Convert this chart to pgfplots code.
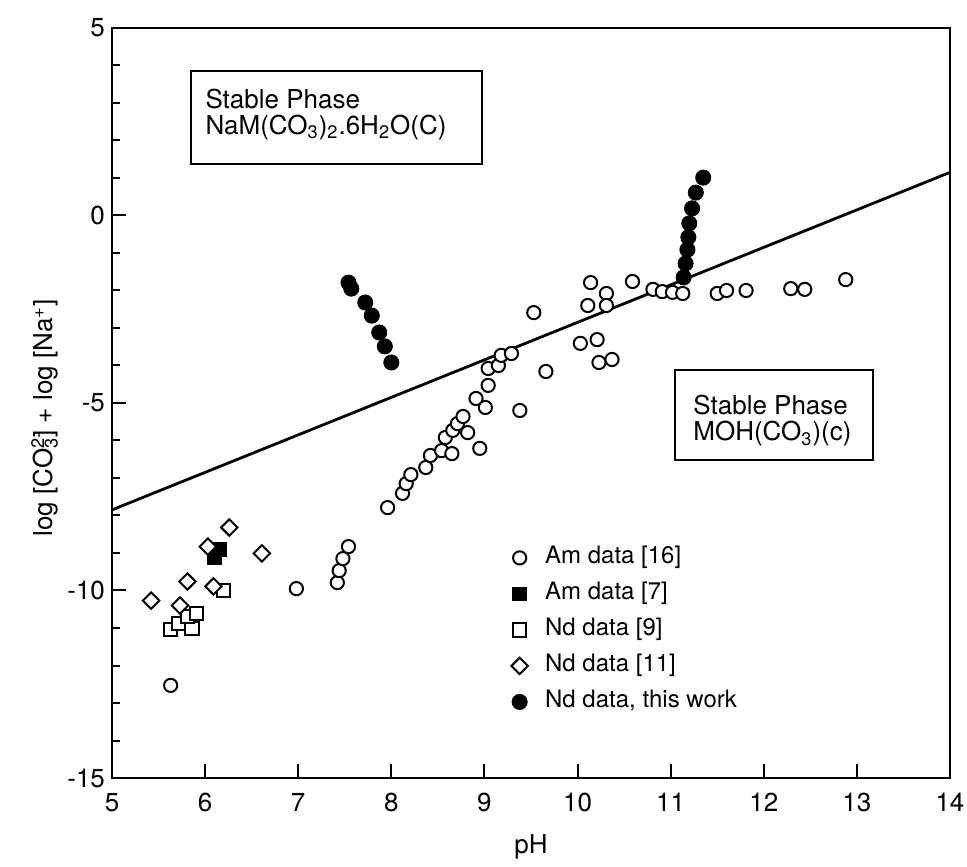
\documentclass[border=0pt]{standalone}
\usepackage{fontspec}
\setmainfont{TeX Gyre Heros}
\usepackage{pgfplots}
\pgfplotsset{compat=1.18}

\begin{document}
\begin{tikzpicture}
\begin{axis}[
  at={(0,0)}, anchor=south west,
  scale only axis, width=419pt, height=375pt,
  xmin=5, xmax=14, ymin=-15, ymax=5,
  xtick={5,6,...,14}, ytick={-15,-10,-5,0,5},
  minor y tick num=4,
  xtick pos=bottom, ytick pos=left,
  tick align=inside,
  major tick length=7pt, minor tick length=4pt,
  every tick/.style={black, line width=1pt},
  axis line style={line width=1.2pt},
  /pgf/number format/assume math mode=true,
  ticklabel style={font=\fontsize{13}{15}\selectfont},
  xticklabel style={yshift=-4pt},
  label style={font=\fontsize{13}{15}\selectfont},
  xlabel={pH},
  ylabel={log [CO\rlap{\textsuperscript{2-}}\textsubscript{3}] + log [Na\textsuperscript{+}]},
  xlabel style={at={(axis description cs:0.5,-0.092)}, anchor=center},
  ylabel style={at={(axis description cs:-0.08,0.48)}, anchor=center},
  legend image code/.code={\draw[#1] plot coordinates {(0.3cm,0cm)};
    \path (0cm,0cm) (0.6cm,0cm);},
  legend style={draw=none, fill=none, at={(axis description cs:0.458,0.318)},
    anchor=north west, font=\fontsize{12}{14}\selectfont, row sep=4pt,
    column sep=3pt,
    nodes={inner sep=1pt, text height=9pt, text depth=3pt}},
  legend cell align=left,
]

% boundary between the two solid phases (slope one in pH)
\addplot[black, line width=1.4pt, forget plot] coordinates {(5,-7.85) (14,1.15)};

% Am data [16]
\addplot[only marks, mark=*, mark size=3.3pt, mark options={draw=black, fill=white, line width=1pt}]
coordinates {
(5.63,-12.53) (6.98,-9.95) (7.42,-9.79) (7.44,-9.47) (7.48,-9.15) (7.54,-8.83)
(7.96,-7.79) (8.12,-7.41) (8.16,-7.15) (8.21,-6.91) (8.37,-6.72) (8.42,-6.40)
(8.54,-6.27) (8.65,-6.35) (8.58,-5.92) (8.66,-5.73) (8.71,-5.55) (8.77,-5.36)
(8.82,-5.79) (8.95,-6.21) (8.91,-4.88) (9.01,-5.12) (9.04,-4.53) (9.04,-4.08)
(9.15,-4.00) (9.18,-3.73) (9.29,-3.68) (9.38,-5.20) (9.53,-2.59) (9.66,-4.16)
(10.14,-1.79) (10.11,-2.40) (10.31,-2.08) (10.31,-2.40) (10.59,-1.76)
(10.03,-3.41) (10.21,-3.31) (10.23,-3.92) (10.37,-3.84)
(10.81,-1.97) (10.91,-2.03) (11.02,-2.05) (11.13,-2.08) (11.50,-2.08)
(11.60,-2.00) (11.81,-2.00) (12.29,-1.95) (12.44,-1.97) (12.88,-1.71)
};
\addlegendentry{Am data [16]}

% Am data [7]
\addplot[only marks, mark=square*, mark size=3.2pt, mark options={draw=black, fill=black, line width=0.8pt}]
coordinates {(6.10,-9.12) (6.16,-8.91)};
\addlegendentry{Am data [7]}

% Nd data [9]
\addplot[only marks, mark=square*, mark size=3.3pt, mark options={draw=black, fill=white, line width=1pt}]
coordinates {(5.63,-11.04) (5.72,-10.88) (5.86,-11.01) (5.81,-10.69) (5.91,-10.61) (6.20,-10.00)};
\addlegendentry{Nd data [9]}

% Nd data [11]
\addplot[only marks, mark=square*, mark size=2.9pt, mark options={draw=black, fill=white, line width=1pt, rotate=45}]
coordinates {(6.03,-8.83) (6.61,-9.01) (5.81,-9.76) (5.42,-10.27) (5.73,-10.40) (6.09,-9.89) (6.26,-8.32)};
\addlegendentry{Nd data [11]}

% Nd data, this work
\addplot[only marks, mark=*, mark size=3.8pt, mark options={draw=black, fill=black}]
coordinates {
(7.54,-1.79) (7.57,-1.95) (7.72,-2.32) (7.79,-2.67) (7.87,-3.12) (7.93,-3.49) (8.00,-3.92)
(11.14,-1.65) (11.16,-1.28) (11.18,-0.91) (11.19,-0.58) (11.20,-0.21) (11.23,0.19) (11.27,0.61) (11.35,1.01)
};
\addlegendentry{Nd data, this work}

% phase field labels
\draw[line width=1pt] (axis cs:5.848,1.373) rectangle (axis cs:8.974,3.853);
\node[anchor=base west, inner sep=0pt, font=\fontsize{13}{15}\selectfont] at (axis cs:6.0,2.84) {Stable Phase};
\node[anchor=base west, inner sep=0pt, font=\fontsize{13}{15}\selectfont] at (axis cs:6.0,2.173) {NaM(CO\textsubscript{3})\textsubscript{2}.6H\textsubscript{2}O(C)};

\draw[line width=1pt] (axis cs:11.047,-6.52) rectangle (axis cs:13.173,-4.12);
\node[anchor=base west, inner sep=0pt, font=\fontsize{13}{15}\selectfont] at (axis cs:11.24,-5.32) {Stable Phase};
\node[anchor=base west, inner sep=0pt, font=\fontsize{13}{15}\selectfont] at (axis cs:11.24,-6.013) {MOH(CO\textsubscript{3})(c)};
\end{axis}
\pgfresetboundingbox
\path (-56pt,-44pt) rectangle (427.5pt,389pt);
\end{tikzpicture}
\end{document}
